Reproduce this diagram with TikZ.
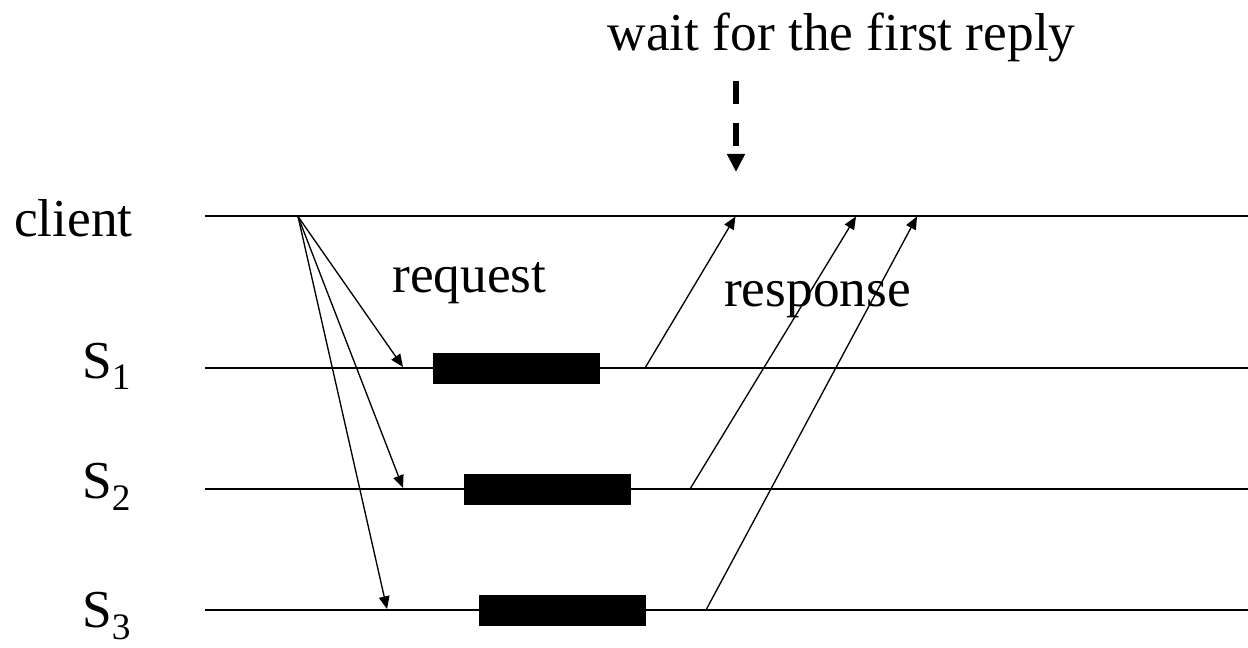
\documentclass[tikz,border=0pt]{standalone}
\usepackage{fontspec}
\setmainfont{Liberation Serif}
\usetikzlibrary{arrows.meta}

\newcommand{\lbl}[2]{S\raisebox{-9pt}{\fontsize{28}{30}\selectfont #2}}

\begin{document}
\begin{tikzpicture}[x=0.75pt,y=-0.75pt,
  txt/.style={inner sep=0pt,font=\fontsize{40}{48}\selectfont},
  lane/.style={line width=1.5pt},
  msg/.style={line width=1pt,-{Triangle[length=9.5pt,width=8pt]}},
  procbox/.style={fill=black,draw=none,inner sep=0pt,
    minimum width=125.25pt,minimum height=23.25pt},
  waitarrow/.style={line width=4.5pt,dash pattern=on 17.25pt off 14.25pt,
    -{Triangle[length=13.5pt,width=12.75pt]}}]
  \useasboundingbox (0,0) rectangle (1248,648);

  % labels
  \node[txt,anchor=base] (wait) at (841.5,51) {wait for the first reply};
  \node[txt,anchor=base] (client) at (73.5,237) {client};
  \node[txt,anchor=base west] (s1) at (82,378) {\lbl{S}{1}};
  \node[txt,anchor=base west] (s2) at (82,498) {\lbl{S}{2}};
  \node[txt,anchor=base west] (s3) at (82,627) {\lbl{S}{3}};
  \node[txt,anchor=base] (req) at (469.5,293) {request};
  \node[txt,anchor=base] (resp) at (817.5,307) {response};

  % time lines
  \coordinate (cL) at (205,216.5);  \coordinate (cR) at (1248,216.5);
  \coordinate (aL) at (205,368);    \coordinate (aR) at (1248,368);
  \coordinate (bL) at (205,489);    \coordinate (bR) at (1248,489);
  \coordinate (dL) at (205,610);    \coordinate (dR) at (1248,610);
  \draw[lane] (cL) -- (cR);
  \draw[lane] (aL) -- (aR);
  \draw[lane] (bL) -- (bR);
  \draw[lane] (dL) -- (dR);

  % processing on each server
  \node[procbox] (p1) at (516.5,368.5) {};
  \node[procbox] (p2) at (547.5,489.5) {};
  \node[procbox] (p3) at (562.5,610.5) {};

  % requests
  \coordinate (send) at (298,216.5);
  \coordinate (r1) at (403,367);
  \coordinate (r2) at (403,488);
  \coordinate (r3) at (387,609);
  \draw[msg] (send) -- (r1);
  \draw[msg] (send) -- (r2);
  \draw[msg] (send) -- (r3);

  % responses
  \coordinate (o1) at (645,368);  \coordinate (i1) at (735.5,216.5);
  \coordinate (o2) at (690,489);  \coordinate (i2) at (856,216.5);
  \coordinate (o3) at (706,610);  \coordinate (i3) at (917,216.5);
  \draw[msg] (o1) -- (i1);
  \draw[msg] (o2) -- (i2);
  \draw[msg] (o3) -- (i3);

  % first reply marker
  \coordinate (wtop) at (736,81);
  \coordinate (wtip) at (736,172);
  \draw[waitarrow] (wtop) -- (wtip);
\end{tikzpicture}
\end{document}
